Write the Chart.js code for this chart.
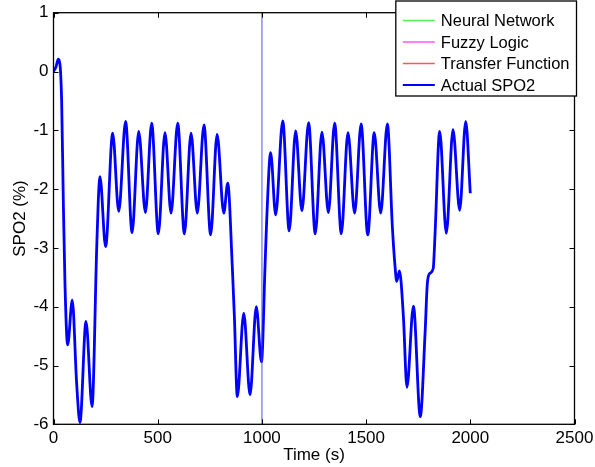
<!DOCTYPE html>
<html>
<head>
<meta charset="utf-8">
<script src="https://cdn.jsdelivr.net/npm/chart.js@4.4.1/dist/chart.umd.min.js"></script>
<style>
  html, body { margin: 0; padding: 0; background: #fff; }
  #wrap { width: 595px; height: 467px; }
</style>
</head>
<body>
<div id="wrap"><canvas id="spo2Chart" width="595" height="467"></canvas></div>
<script>
// time (s) of the traced points
var times = [0, 12, 23, 39, 47, 55, 68, 90, 111, 127, 156, 185, 207, 215, 223, 250, 284, 313, 346, 377,
    409, 441, 471, 503, 535, 564, 596, 628, 660, 690, 722, 754, 785, 817, 836, 858, 868, 882, 913, 943,
    973, 998, 1015, 1023, 1042, 1066, 1100, 1131, 1162, 1192, 1224, 1256, 1288, 1319, 1349, 1381, 1413,
    1445, 1476, 1508, 1539, 1570, 1602, 1626, 1639, 1647, 1660, 1679, 1696, 1727, 1760, 1783, 1794, 1807,
    1822, 1831, 1853, 1885, 1917, 1949, 1978, 2000];

// actual SPO2 (%)
var actualSpo2 = [0.0, 0.08, 0.21, -0.48, -2.19, -3.6, -4.65, -3.89, -5.3, -5.97, -4.25, -5.7, -3.04, -2.19, -1.79, -2.98, -1.05, -2.38, -0.85, -2.74,
    -1.02, -2.40, -0.88, -2.76, -1.04, -2.41, -0.88, -2.76, -1.05, -2.41, -0.91, -2.78, -1.07, -2.41, -1.90, -3.32, -4.17, -5.53, -4.11, -5.50,
    -4.0, -4.94, -3.32, -2.53, -1.38, -2.44, -0.84, -2.71, -1.01, -2.37, -0.87, -2.76, -1.03, -2.40, -0.88, -2.76, -1.04,
    -2.41, -0.89, -2.78, -1.04, -2.41, -0.89, -2.64, -3.32, -3.57, -3.39, -4.17, -5.37, -3.99, -5.87, -4.45, -3.60, -3.43,
    -3.35, -2.75, -1.02, -2.75, -0.99, -2.36, -0.85, -2.07];

// model outputs lie under the actual curve, only their legend entries show
var seriesNames = ['Neural Network', 'Fuzzy Logic', 'Transfer Function', 'Actual SPO2'];
var seriesColors = ['#55ee55', '#ff55ff', '#ff5555', '#0000ff'];

var markerTime = 1000;
var xTicks = [0, 500, 1000, 1500, 2000, 2500];
var yTicks = [-6, -5, -4, -3, -2, -1, 0, 1];

var FONT = 'Liberation Sans, Arial, sans-serif';

var points = times.map(function (t, i) { return { x: t, y: actualSpo2[i] }; });

// ticks inside the box, matlab style, plus the box itself
var boxPlugin = {
    id: 'boxPlugin',
    afterDatasetsDraw: function (chart) {
        var c = chart.ctx, a = chart.chartArea;
        var xs = chart.scales.x, ys = chart.scales.y;
        c.save();
        c.strokeStyle = '#000';
        c.lineWidth = 1;
        c.beginPath();
        xTicks.forEach(function (v) {
            var px = Math.round(xs.getPixelForValue(v)) + 0.5;
            c.moveTo(px, a.bottom); c.lineTo(px, a.bottom - 5);
            c.moveTo(px, a.top); c.lineTo(px, a.top + 5);
        });
        yTicks.forEach(function (v) {
            var py = Math.round(ys.getPixelForValue(v)) + 0.5;
            c.moveTo(a.left, py); c.lineTo(a.left + 5, py);
            c.moveTo(a.right, py); c.lineTo(a.right - 5, py);
        });
        c.stroke();
        c.lineWidth = 1.3;
        c.strokeRect(a.left, a.top, a.right - a.left, a.bottom - a.top);
        c.restore();
    }
};

// legend box in the upper right corner
var legendPlugin = {
    id: 'legendPlugin',
    afterDraw: function (chart) {
        var c = chart.ctx, a = chart.chartArea;
        c.save();
        c.font = '16.5px ' + FONT;
        var maxW = 0;
        seriesNames.forEach(function (n) { maxW = Math.max(maxW, c.measureText(n).width); });
        var w = 46 + maxW + 6;
        var h = 95;
        var right = a.right + 2;
        var left = right - w;
        var top = 1;
        c.fillStyle = '#fff';
        c.fillRect(left, top, w, h);
        c.strokeStyle = '#000';
        c.lineWidth = 1.3;
        c.strokeRect(left, top, w, h);
        c.textBaseline = 'middle';
        seriesNames.forEach(function (n, i) {
            var y = top + 19.5 + i * 21.5;
            c.strokeStyle = seriesColors[i];
            c.lineWidth = i === 3 ? 2 : 1.5;
            c.beginPath();
            c.moveTo(left + 7, y); c.lineTo(left + 39, y);
            c.stroke();
            c.fillStyle = '#000';
            c.fillText(n, left + 45, y + 1);
        });
        c.restore();
    }
};

var ctx = document.getElementById('spo2Chart').getContext('2d');
var datasets = [];
seriesNames.forEach(function (n, i) {
    datasets.push({
        label: n,
        data: i === 3 ? points : [],
        borderColor: seriesColors[i],
        borderWidth: i === 3 ? 2.8 : 1,
        pointRadius: 0,
        fill: false,
        cubicInterpolationMode: 'monotone'
    });
});
datasets.unshift({
    label: 'marker',
    data: [{ x: markerTime, y: yTicks[0] }, { x: markerTime, y: yTicks[yTicks.length - 1] }],
    borderColor: 'rgba(60, 60, 255, 0.5)',
    borderWidth: 1.8,
    pointRadius: 0,
    fill: false
});

function plain(v) { return String(v); }

new Chart(ctx, {
    type: 'line',
    data: { datasets: datasets },
    options: {
        responsive: false,
        animation: false,
        events: [],
        layout: { padding: { top: 12.7, right: 20.5, left: 0, bottom: 0 } },
        plugins: {
            legend: { display: false },
            tooltip: { enabled: false }
        },
        scales: {
            x: {
                type: 'linear',
                min: 0,
                max: 2500,
                grid: { display: false, drawTicks: false },
                border: { display: false },
                afterBuildTicks: function (s) { s.ticks = xTicks.map(function (v) { return { value: v }; }); },
                afterFit: function (s) { s.height = 42.7; s.paddingLeft = 0; s.paddingRight = 0; },
                ticks: { color: '#000', font: { family: FONT, size: 17 }, padding: 4, maxRotation: 0, callback: plain },
                title: { display: true, text: 'Time (s)', color: '#000', font: { family: FONT, size: 17 }, padding: { top: 0, bottom: 1 } }
            },
            y: {
                type: 'linear',
                min: -6,
                max: 1,
                grid: { display: false, drawTicks: false },
                border: { display: false },
                afterBuildTicks: function (s) { s.ticks = yTicks.map(function (v) { return { value: v }; }); },
                afterFit: function (s) { s.width = 53.5; s.paddingTop = 0; s.paddingBottom = 0; },
                ticks: { color: '#000', font: { family: FONT, size: 17 }, padding: 5, callback: plain },
                title: { display: true, text: 'SPO2 (%)', color: '#000', font: { family: FONT, size: 17 }, padding: { top: 10, bottom: 0 } }
            }
        }
    },
    plugins: [boxPlugin, legendPlugin]
});
</script>
</body>
</html>
